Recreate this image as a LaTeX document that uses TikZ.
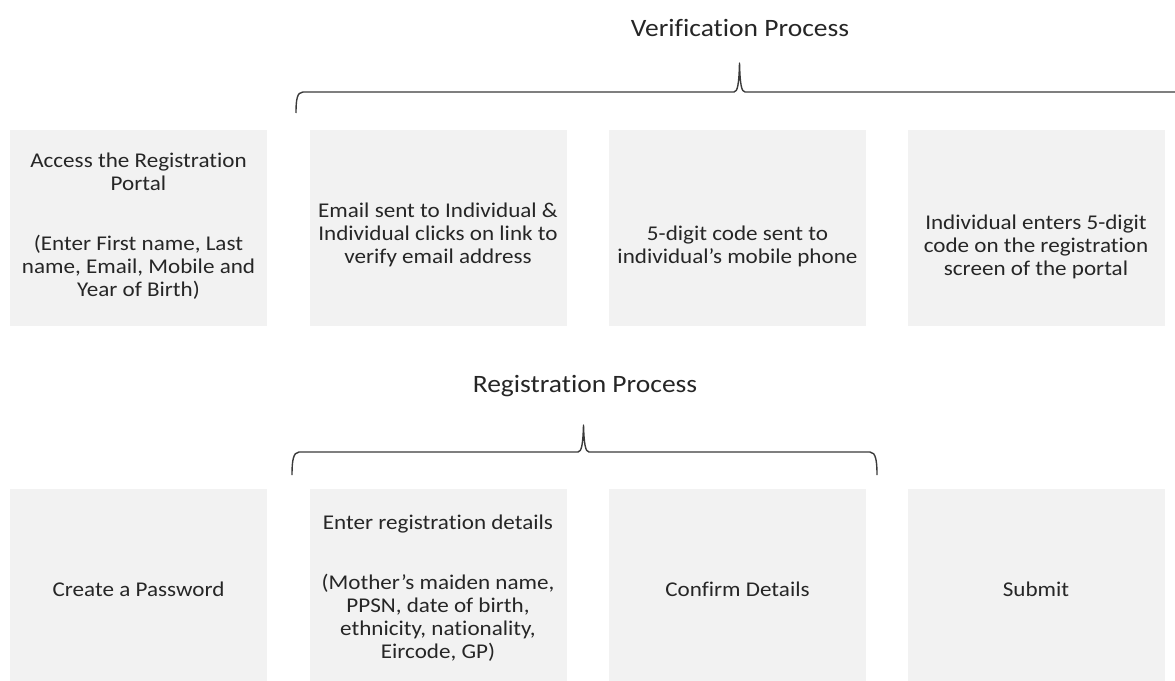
\documentclass[tikz,border=0pt]{standalone}
\usepackage{fontspec}
\setmainfont{Carlito}[Ligatures=NoCommon, FakeStretch=1.1]
\definecolor{boxfill}{HTML}{F2F2F2}
\definecolor{ink}{HTML}{262626}
\definecolor{bracecol}{HTML}{3A3A3A}
\begin{document}
\begin{tikzpicture}[x=1pt,y=-1pt,
  stepbox/.style={fill=boxfill, minimum width=257pt, inner sep=0pt},
  toprow/.style={stepbox, minimum height=196pt},
  botrow/.style={stepbox, minimum height=201pt},
  steptext/.style={inner sep=0pt, align=center, text=ink,
    font=\fontsize{21}{23}\selectfont},
  heading/.style={text=ink, inner sep=0pt, font=\fontsize{25}{28}\selectfont},
  bracket/.style={draw=bracecol, line width=1.4pt, line join=round}]
\clip (0,0) rectangle (1175,680);

% headings
\node[heading] (verif) at (740,28) {Verification Process};
\node[heading] (regis) at (585,386) {Registration Process};

% verification steps
\node[toprow] (access)  at (138.5,227.5) {};
\node[toprow] (email)   at (438,227.5) {};
\node[toprow] (code)    at (737.5,227.5) {};
\node[toprow] (enter)   at (1036,227.5) {};
\node[steptext] (accesstxt) at ([yshift=1.5pt]access.center)
  {Access the Registration\\Portal\\[37pt](Enter First name, Last\\name, Email, Mobile and\\Year of Birth)};
\node[steptext] (emailtxt) at ([yshift=-7.5pt]email.center)
  {Email sent to Individual \&\\Individual clicks on link to\\verify email address};
\node[steptext] (codetxt) at ([yshift=-19pt]code.center)
  {5-digit code sent to\\individual’s mobile phone};
\node[steptext] (entertxt) at ([yshift=-19.5pt]enter.center)
  {Individual enters 5-digit\\code on the registration\\screen of the portal};

% registration steps
\node[botrow] (pass)    at (138.5,589.5) {};
\node[botrow] (details) at (438,589.5) {};
\node[botrow] (confirm) at (737.5,589.5) {};
\node[botrow] (submit)  at (1036,589.5) {};
\node[steptext] (passtxt) at (pass.center) {Create a Password};
\node[steptext] (detailstxt) at ([yshift=1pt]details.center)
  {Enter registration details\\[37pt](Mother’s maiden name,\\PPSN, date of birth,\\ethnicity, nationality,\\Eircode, GP)};
\node[steptext] (confirmtxt) at (confirm.center) {Confirm Details};
\node[steptext] (submittxt) at (submit.center) {Submit};

% brace over the verification steps
\draw[bracket] (296,113) .. controls (296,100) and (297,92) .. (303,92)
  -- (734,92) .. controls (737.5,92) and (739,84) .. (739.5,63)
  .. controls (740,84) and (741.5,92) .. (745,92) -- (1180,92);

% brace over the registration steps
\draw[bracket] (292,475) .. controls (292,462) and (293,452) .. (299,452)
  -- (578,452) .. controls (581.5,452) and (583,444) .. (583.5,425)
  .. controls (584,444) and (585.5,452) .. (589,452)
  -- (870,452) .. controls (876,452) and (877,462) .. (877,475);
\end{tikzpicture}
\end{document}
